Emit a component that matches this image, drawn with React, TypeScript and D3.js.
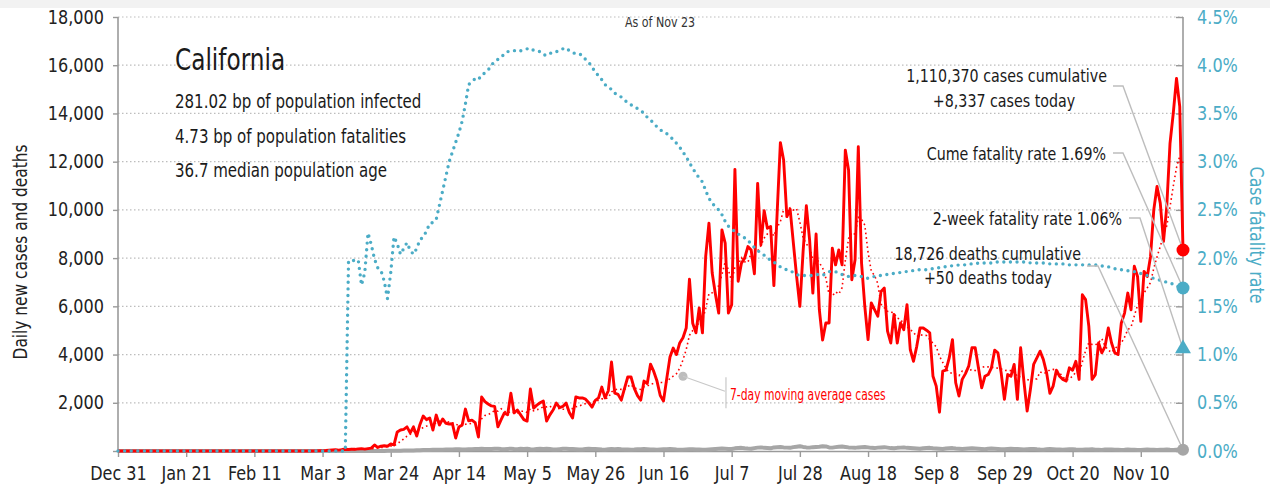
import React, { useEffect, useRef } from 'react';
import * as d3 from 'd3';

const W = 1270;
const H = 491;
const FONT = "'DejaVu Sans Condensed', 'DejaVu Sans', sans-serif";
const TEXT_SX = 0.88; // squeeze text horizontally, the original face is narrower
const TICK_SX = 0.94;

// first day of the series and the "as of" day
const startDate = new Date(2019, 11, 31);
const endDate = new Date(2020, 10, 23);

// daily new cases, Dec 31 .. Nov 23 (one value per day)
const dailyCases = [
  // Dec 31 + Jan
  0, 0, 0, 0, 0, 0, 0, 0, 0, 0, 0, 0, 0, 0, 0, 0, 0, 0, 0, 0, 0, 0, 0, 0, 0, 0, 0, 0, 0, 0, 0, 0,
  // Feb
  0, 0, 0, 0, 0, 0, 0, 0, 0, 0, 0, 0, 0, 0, 0, 0, 0, 0, 0, 0, 0, 0, 0, 0, 0, 0, 0, 0, 0,
  // Mar
  5, 10, 15, 20, 30, 40, 50, 35, 60, 70, 60, 80, 70, 90, 100,
  80, 100, 120, 250, 150, 200, 220, 200, 290, 250, 790, 870, 900, 1000, 750, 1000,
  // Apr
  620, 1100, 1450, 1300, 1370, 870, 1490, 1080, 1330, 1150, 1120, 1130, 540, 1000, 1080,
  1740, 1250, 1280, 1180, 580, 2240, 2050, 1950, 1870, 1850, 1000, 1300, 1580, 1500, 2400,
  // May
  1580, 1700, 1500, 1300, 1240, 2570, 1780, 1900, 2000, 2070, 1240, 1500, 1700, 1990, 1800,
  1850, 1990, 1600, 1370, 2240, 2200, 2200, 2150, 2000, 1820, 2100, 2200, 2650, 2200, 2500, 3690,
  // Jun
  2400, 2350, 2110, 2600, 3070, 3070, 2600, 2300, 2110, 2900, 2800, 3600, 3300, 2900, 2300,
  2070, 3000, 3900, 4270, 4000, 4480, 4700, 5100, 7130, 5300, 4900, 5930, 4900, 8070, 9450,
  // Jul
  7380, 6500, 5720, 9170, 8620, 5720, 6070, 11680, 7040, 7790, 8000, 8480, 8340, 7350, 11100,
  8550, 9970, 9240, 9310, 6860, 9860, 12790, 12070, 9720, 10030, 8620, 7240, 6000, 8280, 10170, 8760,
  // Aug
  6550, 9000, 5860, 4600, 5310, 5310, 8410, 7720, 8340, 7720, 12480, 11650, 7100, 7930, 12620,
  7790, 6000, 4620, 6140, 5860, 5590, 6620, 6760, 4970, 4480, 5660, 4480, 5310, 5030, 6070, 4210,
  // Sep
  3720, 4340, 5100, 5100, 5010, 4900, 3100, 2690, 1610, 3310, 3350, 3860, 4620, 2830, 2280,
  2970, 3210, 3520, 4280, 4280, 3450, 2620, 3100, 3170, 3450, 4180, 4070, 3240, 2140, 3170,
  // Oct
  3100, 3590, 2140, 4280, 2900, 1660, 2550, 3590, 3860, 4140, 3790, 3240, 2390, 2690, 3350,
  3100, 2970, 2900, 3450, 3350, 3720, 2970, 6480, 6280, 5170, 2970, 3170, 4480, 4070, 4340, 5100,
  // Nov
  4480, 4070, 4000, 5310, 5720, 6550, 5860, 7660, 7240, 5380, 7450, 7240, 8070, 10000, 10970,
  10280, 8690, 10140, 12760, 14000, 15450, 14280, 8337,
];

// daily new deaths, same days
const dailyDeaths = [
  0, 0, 0, 0, 0, 0, 0, 0, 0, 0, 0, 0, 0, 0, 0, 0, 0, 0, 0, 0, 0, 0, 0, 0, 0, 0, 0, 0, 0, 0, 0, 0,
  0, 0, 0, 0, 0, 0, 0, 0, 0, 0, 0, 0, 0, 0, 0, 0, 0, 0, 0, 0, 0, 0, 0, 0, 0, 0, 0, 0, 0,
  0, 0, 0, 1, 0, 0, 0, 0, 1, 0, 1, 1, 2, 0, 1, 2, 3, 2, 3, 4, 5, 4, 8, 10, 12, 14, 15, 17, 18, 21, 25,
  30, 35, 38, 40, 45, 48, 50, 52, 55, 60, 58, 62, 70, 75, 65, 60, 68, 72, 80, 85, 90, 88, 78, 85, 92, 95, 80, 70, 88, 95,
  80, 75, 90, 85, 95, 70, 60, 85, 90, 88, 92, 80, 65, 60, 75, 90, 95, 85, 80, 70, 60, 65, 80, 90, 85, 80, 75, 60, 55, 70, 80,
  75, 80, 70, 65, 60, 55, 60, 70, 75, 80, 72, 65, 60, 55, 65, 70, 75, 80, 70, 60, 55, 50, 60, 70, 75, 65, 60, 55, 50, 60,
  70, 80, 90, 100, 95, 85, 80, 110, 120, 130, 110, 100, 95, 120, 140, 150, 130, 120, 110, 150, 160, 170, 150, 140, 130, 160, 180, 200, 170, 150, 140,
  160, 170, 180, 200, 190, 150, 140, 160, 180, 190, 170, 150, 140, 130, 150, 160, 170, 150, 130, 120, 140, 150, 160, 140, 120, 110, 130, 140, 150, 130, 120,
  110, 100, 90, 110, 120, 130, 110, 100, 90, 80, 100, 110, 120, 100, 90, 80, 90, 100, 110, 100, 90, 80, 70, 90, 100, 95, 85, 75, 70, 80,
  90, 85, 80, 70, 60, 75, 80, 85, 70, 60, 55, 70, 80, 75, 65, 60, 50, 65, 70, 75, 60, 55, 50, 60, 65, 70, 55, 50, 45, 60, 65,
  60, 55, 50, 45, 50, 60, 55, 50, 45, 40, 50, 60, 55, 50, 45, 50, 55, 60, 50, 45, 55, 60, 50,
];

// cumulative case fatality rate in %, same days
const fatalityRate = [
  0, 0, 0, 0, 0, 0, 0, 0, 0, 0, 0, 0, 0, 0, 0, 0, 0, 0, 0, 0, 0, 0, 0, 0, 0, 0, 0, 0, 0, 0, 0, 0,
  0, 0, 0, 0, 0, 0, 0, 0, 0, 0, 0, 0, 0, 0, 0, 0, 0, 0, 0, 0, 0, 0, 0, 0, 0, 0, 0, 0, 0,
  0, 0, 0, 0, 0, 0, 0, 0, 0, 0,
  1.97, 1.97, 1.98, 1.98, 1.72, 1.85, 2.26, 2.14, 1.99, 1.90, 1.87, 1.76, 1.58, 1.85, 2.22, 2.15, 2.04, 2.10, 2.16, 2.08, 2.04,
  2.10, 2.19, 2.22, 2.28, 2.36, 2.37, 2.40, 2.55, 2.70, 2.85, 3.00, 3.10, 3.20, 3.30, 3.42, 3.60, 3.80, 3.83,
  3.86, 3.85, 3.90, 3.92, 3.95, 4.00, 4.04, 4.06, 4.08, 4.12, 4.14, 4.15,
  4.15, 4.16, 4.15, 4.16, 4.17, 4.15, 4.16, 4.15, 4.14, 4.11, 4.10, 4.12, 4.14, 4.14, 4.15, 4.17,
  4.18, 4.15, 4.13, 4.12, 4.12, 4.10, 4.06, 4.03, 3.98, 3.93, 3.89, 3.85, 3.80, 3.77, 3.75,
  3.71, 3.69, 3.67, 3.64, 3.61, 3.59, 3.57, 3.55, 3.53, 3.50, 3.46, 3.43, 3.40, 3.36, 3.33,
  3.31, 3.29, 3.26, 3.23, 3.19, 3.15, 3.10, 3.05, 2.99, 2.93, 2.88, 2.83, 2.79, 2.70, 2.62,
  2.57, 2.53, 2.50, 2.45, 2.38, 2.33, 2.31, 2.27, 2.25, 2.23, 2.21, 2.18, 2.15, 2.11, 2.08, 2.05,
  2.03, 2.00, 1.98, 1.96, 1.93, 1.91, 1.89, 1.88, 1.87, 1.85, 1.83, 1.82, 1.82, 1.82, 1.82,
  1.82, 1.83, 1.83, 1.82, 1.84, 1.86, 1.86, 1.86, 1.84, 1.83, 1.82, 1.81, 1.81, 1.82, 1.81, 1.81,
  1.80, 1.79, 1.80, 1.81, 1.82, 1.82, 1.83, 1.83, 1.84, 1.84, 1.85, 1.85, 1.86, 1.86, 1.87,
  1.87, 1.88, 1.88, 1.88, 1.88, 1.89, 1.89, 1.90, 1.90, 1.91, 1.91, 1.92, 1.92, 1.92, 1.93,
  1.93, 1.93, 1.94, 1.94, 1.94, 1.95, 1.95, 1.95, 1.95, 1.95, 1.96, 1.96, 1.96, 1.96, 1.96,
  1.96, 1.96, 1.96, 1.96, 1.96, 1.96, 1.95, 1.95, 1.95, 1.95, 1.95, 1.95, 1.94, 1.94, 1.94, 1.94,
  1.94, 1.94, 1.93, 1.93, 1.93, 1.93, 1.93, 1.93, 1.93, 1.93, 1.93, 1.92, 1.92, 1.91, 1.91,
  1.90, 1.89, 1.89, 1.88, 1.87, 1.87, 1.86, 1.86, 1.85, 1.84, 1.83, 1.82, 1.80, 1.79, 1.78,
  1.77, 1.76, 1.75, 1.74, 1.73, 1.71, 1.70, 1.69,
];

const twoWeekFatalityRate = 1.06;

const caseTicks = [2000, 4000, 6000, 8000, 10000, 12000, 14000, 16000, 18000];
const rateTicks = [0, 0.5, 1, 1.5, 2, 2.5, 3, 3.5, 4, 4.5];
const dateTickStep = 21; // days between date labels

const stateName = 'California';
const infoLines = [
  '281.02 bp of population infected',
  '4.73 bp of population fatalities',
  '36.7 median population age',
];
const casesNote = ['1,110,370 cases cumulative', '+8,337 cases today'];
const deathsNote = ['18,726 deaths cumulative', '+50 deaths today'];
const cumeNote = 'Cume fatality rate 1.69%';
const twoWeekNote = '2-week fatality rate 1.06%';

const RED = '#ff0000';
const BLUE = '#4bacc6';
const GREY = '#a6a6a6';
const AXIS = '#9a9a9a';

const App = () => {
  const svgRef = useRef<SVGSVGElement>(null);

  useEffect(() => {
    const svg = d3.select(svgRef.current);
    svg.selectAll('*').remove();

    const x = d3.scaleTime().domain([startDate, endDate]).range([118, 1183]);
    const yL = d3.scaleLinear().domain([0, 18000]).range([451, 17]);
    const yR = d3.scaleLinear().domain([0, 4.5]).range([451, 17]);
    const day = (i: number) => d3.timeDay.offset(startDate, i);
    const x0 = x.range()[0];
    const x1 = x.range()[1];

    // text helper, squeezed horizontally around its anchor point
    const txt = (s: string, tx: number, ty: number, size: number, anchor = 'start', fill = '#1a1a1a', rot = 0, sx = TEXT_SX) =>
      svg.append('text')
        .attr('transform', `translate(${tx},${ty}) rotate(${rot}) scale(${sx},1)`)
        .attr('text-anchor', anchor)
        .attr('font-family', FONT).attr('font-size', size).attr('fill', fill).text(s);

    // strip at the very top
    svg.append('rect').attr('x', 0).attr('y', 0).attr('width', W).attr('height', 8).attr('fill', '#f2f2f2');

    // gridlines
    svg.append('g')
      .selectAll('line')
      .data(caseTicks)
      .enter()
      .append('line')
      .attr('x1', x0).attr('x2', x1)
      .attr('y1', d => yL(d)).attr('y2', d => yL(d))
      .attr('stroke', '#bdbdbd').attr('stroke-width', 1.2).attr('stroke-dasharray', '1.5,2.5');

    // left axis (no label at zero)
    const gL = svg.append('g').attr('transform', `translate(${x0},0)`)
      .call(d3.axisLeft(yL).tickValues([0, ...caseTicks]).tickFormat(d => (d === 0 ? '' : d3.format(',')(d as number))).tickSize(5).tickPadding(10));
    // right axis, ticks pointing inwards
    const gR = svg.append('g').attr('transform', `translate(${x1},0)`)
      .call(d3.axisRight(yR).tickValues(rateTicks).tickFormat(d => d3.format('.1f')(d as number) + '%').tickSizeInner(-7).tickSizeOuter(0).tickPadding(15));
    // bottom axis
    const dateTicks = d3.range(0, dailyCases.length, dateTickStep).map(day);
    const gB = svg.append('g').attr('transform', `translate(0,${yL(0)})`)
      .call(d3.axisBottom(x).tickValues(dateTicks).tickFormat(d3.timeFormat('%b %-d') as any).tickSize(6).tickSizeOuter(0).tickPadding(10));

    [gL, gR, gB].forEach(g => {
      g.select('.domain').attr('stroke', AXIS).attr('stroke-width', 1.6);
      g.selectAll('.tick line').attr('stroke', AXIS).attr('stroke-width', 1.4);
      g.selectAll('.tick text').attr('font-family', FONT).attr('font-size', 19).attr('fill', '#222')
        .attr('transform', `scale(${TICK_SX},1)`);
    });
    gR.selectAll('.tick text').attr('fill', BLUE);
    gR.select('.domain').attr('d', `M0,${yR(4.5)}V${yR(0)}`);
    gL.select('.domain').attr('d', `M0,${yL(18000)}V${yL(0)}`);

    // axis titles
    txt('Daily new cases and deaths', 27, 252, 19, 'middle', '#222', -90, 0.9);
    txt('Case fatality rate', 1250, 235, 19, 'middle', BLUE, 90, 0.93);

    // deaths
    svg.append('path')
      .datum(dailyDeaths)
      .attr('fill', 'none').attr('stroke', GREY).attr('stroke-width', 4).attr('stroke-linejoin', 'round')
      .attr('d', d3.line<number>().x((_, i) => x(day(i))).y(d => yL(d)));

    // 7-day moving average of cases
    const movingAvg = dailyCases.map((_, i) => (i < 6 ? null : d3.mean(dailyCases.slice(i - 6, i + 1)) as number));
    svg.append('path')
      .datum(movingAvg)
      .attr('fill', 'none').attr('stroke', RED).attr('stroke-width', 1.6).attr('stroke-dasharray', '1.6,3')
      .attr('d', d3.line<number | null>().defined(d => d !== null).x((_, i) => x(day(i))).y(d => yL(d as number)));

    // cases
    svg.append('path')
      .datum(dailyCases)
      .attr('fill', 'none').attr('stroke', RED).attr('stroke-width', 2.9).attr('stroke-linejoin', 'round')
      .attr('d', d3.line<number>().x((_, i) => x(day(i))).y(d => yL(d)));

    // fatality rate
    svg.append('path')
      .datum(fatalityRate)
      .attr('fill', 'none').attr('stroke', BLUE).attr('stroke-width', 3.4).attr('stroke-linecap', 'round')
      .attr('stroke-dasharray', '0,6.6')
      .attr('d', d3.line<number>().x((_, i) => x(day(i))).y(d => yR(d)));

    // end markers
    const last = dailyCases.length - 1;
    const ex = x(day(last));
    const pCases = [ex, yL(dailyCases[last])];
    const pCume = [ex, yR(fatalityRate[last])];
    const pTwo = [ex, yR(twoWeekFatalityRate)];
    const pDeaths = [ex, yL(dailyDeaths[last])];

    // leader lines from the notes to the markers
    const leaders = [
      { from: [1113, 86], bend: 1123, to: pCases },
      { from: [1113, 153], bend: 1123, to: pCume },
      { from: [1129, 218], bend: 1140, to: pTwo },
      { from: [1087, 266], bend: 1098, to: pDeaths },
    ];
    svg.append('g')
      .selectAll('path')
      .data(leaders)
      .enter()
      .append('path')
      .attr('fill', 'none').attr('stroke', '#bdbdbd').attr('stroke-width', 1.4)
      .attr('d', d => `M${d.from[0]},${d.from[1]}H${d.bend}L${d.to[0]},${d.to[1]}`);

    svg.append('circle').attr('cx', pCases[0]).attr('cy', pCases[1]).attr('r', 6.5).attr('fill', RED);
    svg.append('circle').attr('cx', pCume[0]).attr('cy', pCume[1]).attr('r', 6.5).attr('fill', BLUE);
    svg.append('path')
      .attr('transform', `translate(${pTwo[0]},${pTwo[1]})`)
      .attr('d', d3.symbol(d3.symbolTriangle, 110)())
      .attr('fill', BLUE);
    svg.append('circle').attr('cx', pDeaths[0]).attr('cy', pDeaths[1]).attr('r', 6).attr('fill', GREY);

    // moving average note
    const noteDay = 174;
    const nx = x(day(noteDay));
    const ny = yL(3100);
    svg.append('circle').attr('cx', nx).attr('cy', ny).attr('r', 4.5).attr('fill', '#bdbdbd');
    svg.append('path')
      .attr('fill', 'none').attr('stroke', '#c8c8c8').attr('stroke-width', 1.2)
      .attr('d', `M${nx},${ny}L${nx + 42},${ny + 15}M${nx + 43},${ny + 1}V${ny + 32}`);
    txt('7-day moving average cases', nx + 47, ny + 24, 15, 'start', RED, 0, 0.8);

    // header texts
    txt('As of Nov 23', 660, 27, 14, 'middle', '#333');
    txt(stateName, 175, 70, 30, 'start', '#1a1a1a', 0, 0.86);
    infoLines.forEach((s, i) => txt(s, 175, 108 + i * 34.5, 19));

    txt(casesNote[0], 1107, 82, 18, 'end');
    txt(casesNote[1], 1004, 107, 18, 'middle');
    txt(cumeNote, 1106, 160, 18, 'end');
    txt(twoWeekNote, 1122, 225, 18, 'end');
    txt(deathsNote[0], 1081, 260, 18, 'end');
    txt(deathsNote[1], 988, 284, 18, 'middle');
  }, []);

  return (
    <svg
      ref={svgRef}
      width={W}
      height={H}
      style={{ position: 'absolute', left: 0, top: 0, background: '#fff' }}
    />
  );
};

export default App;
